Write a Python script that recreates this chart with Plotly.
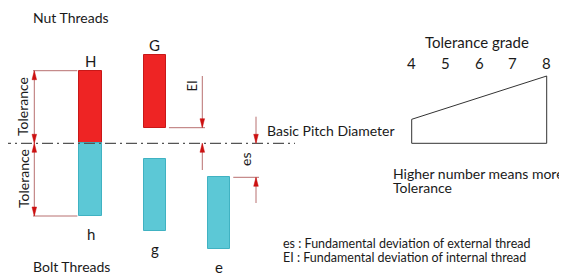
import plotly.graph_objects as go

# ---------------- data ----------------
nut_labels = ["H", "G"]
nut_col = [0, 1]
nut_upper = [72.6, 88.0]
nut_lower = [0.0, 15.6]

bolt_labels = ["h", "g", "e"]
bolt_col = [0, 1, 2]
bolt_upper = [0.0, -15.4, -34.0]
bolt_lower = [-72.7, -87.4, -106.0]

grades = [4, 5, 6, 7, 8]
grade_ends = [4, 8]
grade_heights = [24.0, 67.3]

legend_lines = ["es : Fundamental deviation of external thread",
                "EI : Fundamental deviation of internal thread"]

# ---------------- layout helpers ----------------
VW, VH = 567, 273          # browser window
OFF = 8                    # default page body margin
W, H = VW - OFF, VH - OFF  # figure size
PX_PER_COL = 64.3
COL0_PX = 90.5
BASE_PX = 143.3
BAR_W = 0.347
FONT = "Lato"
TXT = "#1a1a1a"
DIM = "#b87070"
HEAD = "#cc1111"

def col_of(px):
    return (px - COL0_PX) / PX_PER_COL

def pap(px, py):
    return (px - OFF) / W, 1 - (py - OFF) / H

fig = go.Figure()

# bars
fig.add_trace(go.Bar(x=nut_col, y=[u - l for u, l in zip(nut_upper, nut_lower)], base=nut_lower,
                     width=BAR_W, marker=dict(color="#ee2424", line=dict(color="#c81818", width=1)),
                     hoverinfo="skip", showlegend=False))
fig.add_trace(go.Bar(x=bolt_col, y=[u - l for u, l in zip(bolt_upper, bolt_lower)], base=bolt_lower,
                     width=BAR_W, marker=dict(color="#5cc8d6", line=dict(color="#40b2c2", width=1)),
                     hoverinfo="skip", showlegend=False))

# basic pitch diameter line
fig.add_trace(go.Scatter(x=[col_of(0), col_of(295)], y=[0, 0], mode="lines",
                         line=dict(color="#555555", width=1.2, dash="11px,4px,2px,4px"),
                         hoverinfo="skip", showlegend=False))

shapes = []

def seg(x0, y0, x1, y1, color=DIM, w=1):
    shapes.append(dict(type="line", xref="x", yref="y", x0=x0, y0=y0, x1=x1, y1=y1,
                       line=dict(color=color, width=w), layer="above"))

def head(x, v, up):
    L, hw = 9.0, 2.3 / PX_PER_COL
    b = v - L if up else v + L
    shapes.append(dict(type="path", xref="x", yref="y",
                       path=f"M {x} {v} L {x-hw} {b} L {x+hw} {b} Z",
                       fillcolor=HEAD, line=dict(color=HEAD, width=0.5), layer="above"))

# tolerance dimension (left)
tx = col_of(34.3)
ext_l, ext_r = col_of(33), nut_col[0] - BAR_W / 2 - 2 / PX_PER_COL
seg(ext_l, nut_upper[0], ext_r, nut_upper[0])
seg(ext_l, bolt_lower[0], ext_r, bolt_lower[0])
seg(tx, nut_upper[0], tx, bolt_lower[0])
head(tx, nut_upper[0], True)
head(tx, 0, False)
head(tx, 0, True)
head(tx, bolt_lower[0], False)

# EI dimension
ex = col_of(202.3)
seg(nut_col[1] + BAR_W / 2 + 3 / PX_PER_COL, nut_lower[1], col_of(205), nut_lower[1])
seg(ex, 67.3, ex, nut_lower[1])
head(ex, nut_lower[1], False)
seg(ex, 0, ex, -26.7)
head(ex, 0, True)

# es dimension
sx = col_of(256)
seg(bolt_col[2] + BAR_W / 2 + 3 / PX_PER_COL, bolt_upper[2], col_of(259), bolt_upper[2])
seg(sx, 26.6, sx, 0)
head(sx, 0, False)
seg(sx, bolt_upper[2], sx, -59.7)
head(sx, bolt_upper[2], True)

# tolerance-grade trapezoid on x2 axis
g0, g1 = grade_ends
h0, h1 = grade_heights
fig.add_trace(go.Scatter(x=[g0, g0, g1, g1, g0], y=[0, h0, h1, 0, 0], xaxis="x2",
                         mode="lines", line=dict(color="#333333", width=1),
                         hoverinfo="skip", showlegend=False))

ann = []

def text(s, px, py, size=14, xanchor="center", angle=0):
    x, y = pap(px, py)
    ann.append(dict(text=s, x=x, y=y, xref="paper", yref="paper", showarrow=False,
                    xanchor=xanchor, yanchor="middle", textangle=angle,
                    font=dict(family=FONT, size=size, color=TXT)))

text("Nut Threads", 31, 18, 14, "left")
text("Bolt Threads", 31, 266, 14, "left")
for lab, c, u in zip(nut_labels, nut_col, nut_upper):
    ann.append(dict(text=lab, x=c, y=u + 10, xref="x", yref="y", showarrow=False,
                    yanchor="middle", font=dict(family=FONT, size=15, color=TXT)))
for lab, c, l in zip(bolt_labels, bolt_col, bolt_lower):
    ann.append(dict(text=lab, x=c, y=l - 18, xref="x", yref="y", showarrow=False,
                    yanchor="middle", font=dict(family=FONT, size=15, color=TXT)))
text("Tolerance", 23, 107, 14, angle=-90)
text("Tolerance", 23, 179, 14, angle=-90)
text("EI", 191.5, 86, 13, angle=-90)
text("es", 245, 160, 14, angle=-90)
text("Basic Pitch Diameter", 265, 130, 14, "left")
text("Tolerance grade", 477, 42, 15)
for g in grades:
    ann.append(dict(text=str(g), x=g, y=BASE_PX - 63, xref="x2", yref="y", showarrow=False,
                    yanchor="middle", font=dict(family=FONT, size=15, color=TXT)))
text("Higher number means more", 391, 173, 14, "left")
text("Tolerance", 391, 187, 14, "left")
text(legend_lines[0], 281, 243.5, 12.5, "left")
text(legend_lines[1], 281, 257, 12.5, "left")

gpx = 33.75
fig.update_layout(
    width=W, height=H, margin=dict(l=0, r=0, t=0, b=0),
    paper_bgcolor="white", plot_bgcolor="white",
    barmode="overlay", bargap=0,
    xaxis=dict(range=[col_of(OFF), col_of(VW)], visible=False, fixedrange=True),
    xaxis2=dict(range=[4 - (411.7 - OFF) / gpx, 4 + (VW - 411.7) / gpx], overlaying="x",
                visible=False, fixedrange=True),
    yaxis=dict(range=[BASE_PX - VH, BASE_PX - OFF], visible=False, fixedrange=True),
    shapes=shapes, annotations=ann,
)
fig.write_html("out.html")
